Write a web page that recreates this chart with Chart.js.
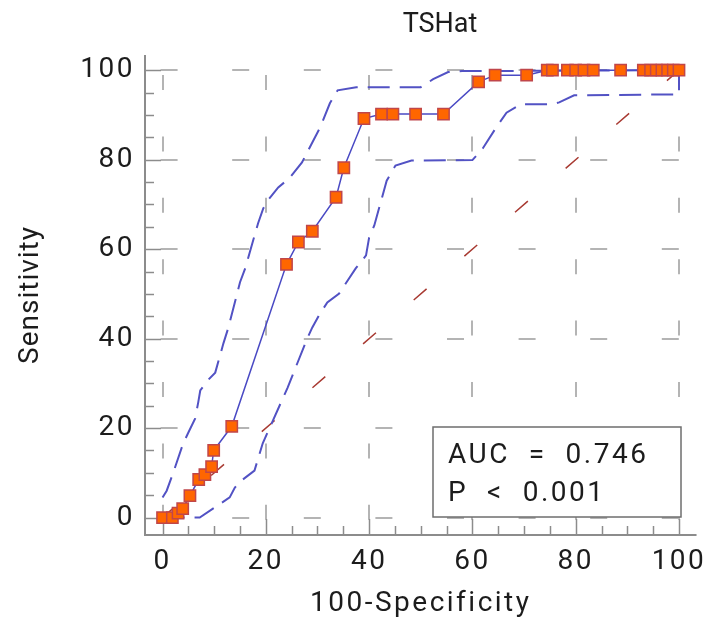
<!DOCTYPE html>
<html>
<head>
<meta charset="utf-8">
<script src="https://cdn.jsdelivr.net/npm/chart.js@4/dist/chart.umd.min.js"></script>
<style>
  html, body { margin: 0; padding: 0; background: #ffffff; }
  #wrap { position: relative; width: 713px; height: 621px; }
</style>
</head>
<body>
<div id="wrap"><canvas id="c" width="713" height="621"></canvas></div>
<script>
// ---- Data ----
const chartTitle = "TSHat";
const xTitle = "100-Specificity";
const yTitle = "Sensitivity";
const tickValues = [0, 20, 40, 60, 80, 100];
const aucText = "AUC  =  0.746";
const pText = "P  <  0.001";

const rocX = [0, 1.9, 3.0, 3.9, 5.3, 7.0, 8.2, 9.5, 9.9, 13.4, 24.0, 26.3, 29.0, 33.6, 35.1, 39.0, 42.4, 44.6, 49.0, 54.4, 61.2, 64.4, 70.5, 74.5, 75.5, 78.4, 80.0, 81.6, 83.4, 88.7, 93.1, 94.5, 95.6, 96.7, 97.8, 98.9, 100];
const rocY = [0, 0, 1.0, 2.0, 4.9, 8.5, 9.6, 11.4, 15.0, 20.4, 56.6, 61.6, 64.0, 71.6, 78.2, 89.2, 90.2, 90.2, 90.2, 90.2, 97.4, 98.9, 98.9, 100, 100, 100, 100, 100, 100, 100, 100, 100, 100, 100, 100, 100, 100];

const upperX = [0, 0.8, 2.0, 4.0, 5.0, 6.3, 6.9, 7.3, 8.7, 10.2, 11.8, 12.7, 15.0, 16.0, 18.5, 19.5, 20.4, 22.4, 24.5, 27.0, 30.5, 32.4, 33.9, 37.5, 50.0, 52.4, 55.3, 58.0, 100];
const upperY = [4.5, 6.0, 9.8, 16.6, 19.0, 22.1, 25.7, 28.4, 30.6, 32.4, 39.0, 42.3, 52.6, 55.7, 65.8, 69.1, 70.9, 73.8, 75.8, 79.4, 87.2, 92.6, 95.5, 96.2, 96.2, 98.0, 99.6, 99.8, 100];

const lowerX = [0, 7.2, 13.0, 14.0, 15.3, 17.8, 19.4, 24.2, 28.0, 29.0, 30.3, 31.9, 34.2, 37.4, 39.4, 40.0, 41.0, 43.4, 45.1, 48.2, 60.0, 62.0, 64.6, 66.6, 69.4, 75.5, 76.8, 79.7, 100, 100];
const lowerY = [0, 0, 4.5, 6.7, 8.3, 10.5, 16.6, 29.0, 40.0, 42.5, 45.2, 48.1, 50.1, 55.7, 58.6, 62.6, 65.3, 75.3, 78.7, 79.8, 79.9, 82.5, 87.2, 90.5, 92.4, 92.4, 92.8, 94.4, 94.6, 100];

const diagX = [0, 100];
const diagY = [0, 100];

const toPts = (xs, ys) => xs.map((v, i) => ({ x: v, y: ys[i] }));

const FONT = "Roboto";
const TEXT = "#1c1c1c";

// letter spacing per text group (style only)
const spacing = { xTicks: '2.5px', xTitle: '2.5px', yTicks: '2.5px', yTitle: '1px' };

function wrapSpacing(scale, method, sp) {
  const orig = scale[method].bind(scale);
  scale[method] = function (...args) {
    const ctx = scale.ctx;
    ctx.save();
    ctx.letterSpacing = sp;
    orig(...args);
    ctx.restore();
  };
}

const decor = {
  id: 'decor',
  afterUpdate(chart) {
    const { x, y } = chart.scales;
    if (!x._wrapped) { wrapSpacing(x, 'drawLabels', spacing.xTicks); wrapSpacing(x, 'drawTitle', spacing.xTitle); x._wrapped = true; }
    if (!y._wrapped) { wrapSpacing(y, 'drawLabels', spacing.yTicks); wrapSpacing(y, 'drawTitle', spacing.yTitle); y._wrapped = true; }
  },
  beforeDatasetsDraw(chart) {
    const { ctx, chartArea: a, scales: { x, y } } = chart;
    ctx.save();
    ctx.strokeStyle = '#8c8c8c';
    ctx.lineWidth = 2;
    ctx.beginPath();
    ctx.moveTo(a.left, a.top);
    ctx.lineTo(a.left, a.bottom);
    ctx.lineTo(a.right, a.bottom);
    ctx.stroke();
    ctx.lineWidth = 1.5;
    for (let v = 0; v <= 100; v += 5) {
      const major = v % 20 === 0;
      const len = major ? 16 : 9;
      const py = Math.round(y.getPixelForValue(v)) + 0.5;
      ctx.beginPath(); ctx.moveTo(a.left, py); ctx.lineTo(a.left + len, py); ctx.stroke();
      const px = Math.round(x.getPixelForValue(v)) + 0.5;
      ctx.beginPath(); ctx.moveTo(px, a.bottom); ctx.lineTo(px, a.bottom - len); ctx.stroke();
    }
    ctx.restore();
  },
  afterDatasetsDraw(chart) {
    const { ctx } = chart;
    ctx.save();
    // AUC box
    const bx = 433, by = 427, bw = 248, bh = 90;
    ctx.fillStyle = '#ffffff';
    ctx.fillRect(bx, by, bw, bh);
    ctx.strokeStyle = '#6e6e6e';
    ctx.lineWidth = 1.5;
    ctx.strokeRect(bx, by, bw, bh);
    ctx.fillStyle = TEXT;
    ctx.font = `28px ${FONT}`;
    ctx.letterSpacing = '2.5px';
    ctx.textAlign = 'left';
    ctx.textBaseline = 'alphabetic';
    ctx.fillText(aucText, 448, 463);
    ctx.fillText(pText, 448, 501);
    // title
    ctx.letterSpacing = '0px';
    ctx.font = `27px ${FONT}`;
    ctx.textAlign = 'center';
    ctx.textBaseline = 'middle';
    ctx.fillText(chartTitle, 440, 25);
    ctx.restore();
  }
};

new Chart(document.getElementById('c'), {
  type: 'line',
  data: {
    datasets: [
      {
        label: 'ROC',
        data: toPts(rocX, rocY),
        borderColor: '#4a4ac4',
        borderWidth: 1.5,
        pointStyle: 'rect',
        pointRadius: 8,
        pointBackgroundColor: '#ff6600',
        pointBorderColor: '#c0464a',
        pointBorderWidth: 1.5,
        tension: 0
      },
      {
        label: 'Upper CI',
        data: toPts(upperX, upperY),
        borderColor: '#5252c4',
        borderWidth: 2,
        borderDash: [22, 10],
        pointRadius: 0,
        tension: 0
      },
      {
        label: 'Lower CI',
        data: toPts(lowerX, lowerY),
        borderColor: '#5252c4',
        borderWidth: 2,
        borderDash: [22, 10],
        pointRadius: 0,
        tension: 0
      },
      {
        label: 'Reference',
        data: toPts(diagX, diagY),
        borderColor: '#a83a32',
        borderWidth: 1.5,
        borderDash: [17, 50],
        borderDashOffset: 2.7,
        pointRadius: 0,
        tension: 0
      }
    ]
  },
  options: {
    responsive: false,
    animation: false,
    events: [],
    layout: { padding: { top: 55, right: 13, left: 0, bottom: 0 } },
    plugins: { legend: { display: false }, tooltip: { enabled: false }, title: { display: false } },
    scales: {
      x: {
        type: 'linear',
        min: -3.4, max: 103.4,
        afterBuildTicks: (s) => { s.ticks = tickValues.map(v => ({ value: v })); },
        afterFit: (s) => { s.height = 86; },
        grid: { color: '#b4b4b4', lineWidth: 2, drawTicks: false },
        border: { display: false, dash: [15, 46.4], dashOffset: 41.4 },
        ticks: { color: TEXT, font: { family: FONT, size: 28 }, padding: 10, maxRotation: 0 },
        title: { display: true, text: xTitle, color: TEXT, font: { family: FONT, size: 28 }, padding: { top: 0, bottom: 0 } }
      },
      y: {
        type: 'linear',
        min: -3.9, max: 103.4,
        afterBuildTicks: (s) => { s.ticks = tickValues.map(v => ({ value: v })); },
        afterFit: (s) => { s.width = 145; },
        grid: { color: '#b4b4b4', lineWidth: 2, drawTicks: false },
        border: { display: false, dash: [17, 54.6], dashOffset: 56 },
        ticks: { color: TEXT, font: { family: FONT, size: 28 }, padding: 10 },
        title: { display: true, text: yTitle, color: TEXT, font: { family: FONT, size: 28 }, padding: { top: 14, bottom: 0 } }
      }
    }
  },
  plugins: [decor]
});
</script>
</body>
</html>
